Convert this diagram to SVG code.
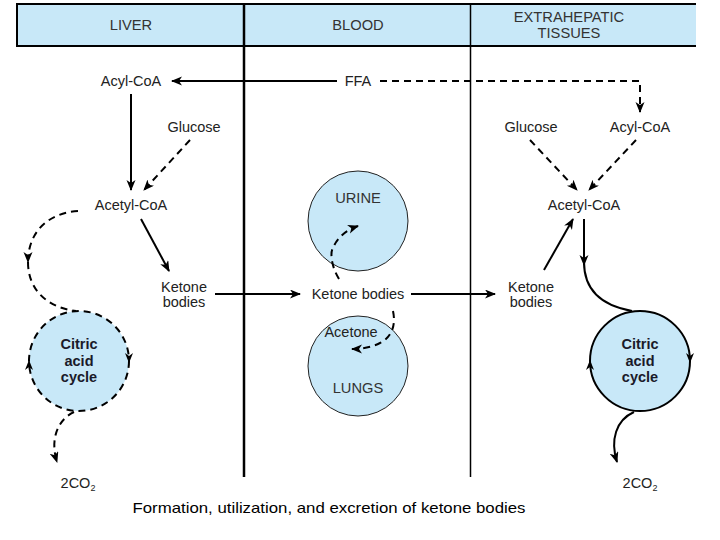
<svg xmlns="http://www.w3.org/2000/svg" width="720" height="540" viewBox="0 0 720 540">
<style>
.t{font-family:"Liberation Sans",Arial,sans-serif;font-size:14.5px;fill:#222;text-anchor:middle}
.h{font-family:"Liberation Sans",Arial,sans-serif;font-size:14.7px;fill:#333;text-anchor:middle}
.b{font-family:"Liberation Sans",Arial,sans-serif;font-size:14.5px;font-weight:bold;fill:#1a1a2a;text-anchor:middle}
.s{fill:none;stroke:#000;stroke-width:2}
.d{fill:none;stroke:#000;stroke-width:2;stroke-dasharray:7,5}
.cap{font-family:"Liberation Sans",Arial,sans-serif;font-size:14.5px;fill:#000;text-anchor:middle}
</style>
<defs>
<marker id="ah" markerUnits="userSpaceOnUse" markerWidth="12" markerHeight="10" refX="10" refY="4.5" orient="auto">
<path d="M0,0 L11,4.5 L0,9 L3,4.5 z" fill="#000"/>
</marker>
</defs>
<rect width="720" height="540" fill="#fff"/>
<g id="header">
<rect x="17" y="4" width="679" height="42" fill="#c8e8f8"/>
<path d="M696,4 H17 V46 H696" fill="none" stroke="#000" stroke-width="2"/>
<text class="h" x="131" y="30">LIVER</text>
<text class="h" x="358" y="30">BLOOD</text>
<text class="h" x="569" y="22">EXTRAHEPATIC</text>
<text class="h" x="569" y="38">TISSUES</text>
</g>
<g id="dividers">
<line x1="244" y1="4" x2="244" y2="477" stroke="#000" stroke-width="2.5"/>
<line x1="470.5" y1="4" x2="470.5" y2="477" stroke="#000" stroke-width="1.5"/>
</g>
<g id="circles">
<circle id="liver-cycle" cx="79" cy="361" r="50" fill="#c8e8f8" stroke="#000" stroke-width="2" stroke-dasharray="7,5"/>
<circle id="urine" cx="358" cy="221" r="50" fill="#c8e8f8" stroke="#222" stroke-width="1"/>
<circle id="lungs" cx="358" cy="366" r="50" fill="#c8e8f8" stroke="#222" stroke-width="1"/>
<circle id="extra-cycle" cx="640" cy="361" r="50" fill="#c8e8f8" stroke="#000" stroke-width="2"/>
</g>
<g id="connectors">
<line class="s" x1="337" y1="81" x2="172" y2="81" stroke-width="3" marker-end="url(#ah)"/>
<path class="d" d="M380,81 H640 V112" stroke-width="2.5" marker-end="url(#ah)"/>
<line class="s" x1="131" y1="94" x2="131" y2="190" marker-end="url(#ah)"/>
<line class="d" x1="190" y1="140" x2="144" y2="190" marker-end="url(#ah)"/>
<line class="s" x1="141" y1="219" x2="169" y2="271" marker-end="url(#ah)"/>
<line class="s" x1="215" y1="294" x2="300" y2="294" stroke-width="3" marker-end="url(#ah)"/>
<line class="s" x1="411" y1="294" x2="495" y2="294" stroke-width="3" marker-end="url(#ah)"/>
<line class="d" x1="530" y1="140" x2="577" y2="190" marker-end="url(#ah)"/>
<line class="d" x1="636" y1="140" x2="589" y2="190" marker-end="url(#ah)"/>
<line class="s" x1="544" y1="270" x2="573" y2="219" marker-end="url(#ah)"/>
<line class="s" x1="584" y1="219" x2="584" y2="265" stroke-width="3" marker-end="url(#ah)"/>
<path class="s" d="M584,262 C584,292 604,306 632,311"/>
<path class="d" d="M78,211 C48,213 28,232 28,262" marker-end="url(#ah)"/>
<path class="d" d="M28,262 C28,292 50,308 76,311"/>
<path class="d" d="M74,412 C57,420 50,440 57,462" marker-end="url(#ah)"/>
<path class="s" d="M634,412 C616,420 610,440 617,462" marker-end="url(#ah)"/>
<path class="d" d="M339,279 C331,266 330,252 333,248 C337,238 346,230 358,226" marker-end="url(#ah)"/>
<path class="d" d="M393,311 C396,325 392,337 380,343 C372,347 362,349 352,349" marker-end="url(#ah)"/>
<path d="M125,353 L129,363 L133,353 L129,356 z" fill="#000"/>
<path d="M25,370 L29,360 L33,370 L29,367 z" fill="#000"/>
<path d="M686,353 L690,363 L694,353 L690,356 z" fill="#000"/>
<path d="M586,370 L590,360 L594,370 L590,367 z" fill="#000"/>
</g>
<g id="liver">
<text class="t" x="131" y="86">Acyl-CoA</text>
<text class="t" x="194" y="132">Glucose</text>
<text class="t" x="131" y="210">Acetyl-CoA</text>
<text class="t" x="184" y="292">Ketone</text>
<text class="t" x="184" y="307">bodies</text>
<text class="b" x="79" y="349">Citric</text>
<text class="b" x="79" y="366">acid</text>
<text class="b" x="79" y="382">cycle</text>
<text class="t" x="78" y="488">2CO<tspan font-size="9" dy="3">2</tspan></text>
</g>
<g id="blood">
<text class="t" x="358" y="86">FFA</text>
<text class="h" x="358" y="203">URINE</text>
<text class="t" x="358" y="299">Ketone bodies</text>
<text class="t" x="351" y="337">Acetone</text>
<text class="h" x="358" y="393">LUNGS</text>
</g>
<g id="extrahepatic">
<text class="t" x="531" y="132">Glucose</text>
<text class="t" x="640" y="132">Acyl-CoA</text>
<text class="t" x="584" y="210">Acetyl-CoA</text>
<text class="t" x="531" y="292">Ketone</text>
<text class="t" x="531" y="307">bodies</text>
<text class="b" x="640" y="349">Citric</text>
<text class="b" x="640" y="366">acid</text>
<text class="b" x="640" y="382">cycle</text>
<text class="t" x="640" y="488">2CO<tspan font-size="9" dy="3">2</tspan></text>
</g>
<text class="cap" x="329" y="513" textLength="393" lengthAdjust="spacingAndGlyphs">Formation, utilization, and excretion of ketone bodies</text>
</svg>
